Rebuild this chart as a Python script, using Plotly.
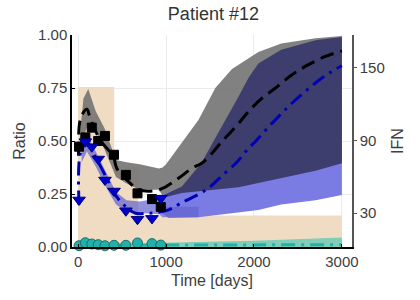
import plotly.graph_objects as go

# ---------------- data ----------------
# observation days and measured ratios
obs_days = [10, 82, 155, 228, 305, 408, 543, 675, 840, 940]
black_obs = [0.473, 0.517, 0.563, 0.500, 0.524, 0.435, 0.340, 0.253, 0.226, 0.189]
blue_obs = [0.222, 0.497, 0.473, 0.415, 0.316, 0.264, 0.171, 0.131, 0.135, 0.230]
teal_obs = [0.006, 0.020, 0.014, 0.011, 0.006, 0.008, 0.008, 0.019, 0.016, 0.009]

# model curves
black_model_days = [5, 30, 100, 135, 250, 345, 400, 440, 570, 690, 920, 1145, 1290, 1405,
                    1485, 1620, 1790, 1940, 2085, 2245, 2425, 2620, 2820, 3000]
black_model = [0.43, 0.61, 0.65, 0.61, 0.505, 0.457, 0.43, 0.37, 0.31, 0.27, 0.27, 0.325, 0.37,
               0.395, 0.425, 0.49, 0.566, 0.64, 0.70, 0.75, 0.81, 0.86, 0.90, 0.925]
blue_model_days = [10, 30, 100, 195, 330, 400, 520, 655, 785, 880, 1030, 1165, 1390, 1505,
                   1620, 1805, 1920, 2033, 2185, 2315, 2430, 2600, 2750, 2880, 3000]
blue_model = [0.20, 0.45, 0.49, 0.426, 0.32, 0.26, 0.198, 0.159, 0.159, 0.162, 0.175, 0.206,
              0.253, 0.285, 0.33, 0.40, 0.457, 0.505, 0.575, 0.63, 0.678, 0.74, 0.79, 0.827, 0.855]
teal_model_days = [0, 1000, 2000, 3000]
teal_model = [0.008, 0.009, 0.010, 0.011]

# confidence bands
gray_days = [25, 60, 115, 200, 300, 430, 550, 700, 920, 960, 1000, 1180, 1370, 1560, 1750,
             1940, 2050, 2310, 2700, 3000]
gray_upper = [0.55, 0.70, 0.745, 0.64, 0.56, 0.41, 0.40, 0.39, 0.37, 0.375, 0.39, 0.49, 0.60,
              0.75, 0.84, 0.89, 0.92, 0.96, 0.985, 0.995]
gray_lower = [0.45, 0.52, 0.58, 0.55, 0.46, 0.33, 0.30, 0.27, 0.27, 0.24, 0.235, 0.25, 0.26,
              0.27, 0.28, 0.295, 0.30, 0.32, 0.36, 0.40]

blue_fit_days = [40, 100, 200, 320, 430, 550, 700, 920, 960, 1370]
blue_fit_upper = [0.47, 0.53, 0.45, 0.35, 0.26, 0.22, 0.215, 0.23, 0.19, 0.19]
blue_fit_lower = [0.40, 0.45, 0.38, 0.28, 0.20, 0.165, 0.16, 0.155, 0.14, 0.14]

blue_pred_days = [950, 1030, 1370, 1750, 2050, 2310, 2700, 3000]
blue_pred_upper = [0.245, 0.26, 0.30, 0.33, 0.35, 0.37, 0.40, 0.43]
blue_pred_lower = [0.16, 0.137, 0.14, 0.16, 0.175, 0.20, 0.22, 0.245]

navy_days = [950, 1000, 1180, 1400, 1600, 1825, 1940, 2050, 2310, 2700, 3000]
navy_upper = [0.24, 0.25, 0.285, 0.395, 0.54, 0.71, 0.80, 0.865, 0.93, 0.975, 0.99]
navy_lower = [0.235, 0.236, 0.255, 0.265, 0.272, 0.282, 0.295, 0.305, 0.325, 0.36, 0.395]

teal_band_days = [0, 1000, 2000, 3000]
teal_band_upper = [0.012, 0.02, 0.03, 0.045]
teal_band_lower = [0.0, 0.0, 0.0, 0.0]

# IFN dosing (right axis)
dose_days = [0, 410, 680, 3000]
ifn_dose = [134, 68, 28, 28]

# ---------------- figure ----------------
fig = go.Figure()


def band(days, upper, lower, color):
    fig.add_trace(go.Scatter(
        x=list(days) + list(days)[::-1],
        y=list(upper) + list(lower)[::-1],
        fill="toself", fillcolor=color, mode="lines",
        line=dict(width=0, color=color), hoverinfo="skip",
        showlegend=False, yaxis="y2"))


# IFN dose steps (main y axis, drawn underneath)
fig.add_trace(go.Scatter(
    x=dose_days, y=ifn_dose, mode="lines", line=dict(shape="hv", width=0, color="#F0DCC3"),
    fill="tozeroy", fillcolor="#F0DCC3", showlegend=False, yaxis="y"))

band(teal_band_days, teal_band_upper, teal_band_lower, "#80CDBA")
band(gray_days, gray_upper, gray_lower, "rgba(112,112,112,0.88)")
band(blue_pred_days, blue_pred_upper, blue_pred_lower, "#7B7BE4")
band(blue_fit_days, blue_fit_upper, blue_fit_lower, "rgba(100,100,205,0.72)")
band(navy_days, navy_upper, navy_lower, "#3D3D6E")

# model lines
fig.add_trace(go.Scatter(x=teal_model_days, y=teal_model, mode="lines",
                         line=dict(color="#20B2AA", width=3, dash="14px,6px,3px,6px"),
                         showlegend=False, yaxis="y2"))
fig.add_trace(go.Scatter(x=black_model_days, y=black_model, mode="lines",
                         line=dict(color="black", width=3, dash="14px,7px", shape="spline"),
                         showlegend=False, yaxis="y2"))
fig.add_trace(go.Scatter(x=blue_model_days, y=blue_model, mode="lines",
                         line=dict(color="#0000B4", width=3, dash="14px,6px,3px,6px", shape="spline"),
                         showlegend=False, yaxis="y2"))

# observations
fig.add_trace(go.Scatter(x=obs_days, y=teal_obs, mode="markers", cliponaxis=False,
                         marker=dict(symbol="circle", size=10, color="#20B2AA",
                                     line=dict(color="#1B6E69", width=1)),
                         showlegend=False, yaxis="y2"))
fig.add_trace(go.Scatter(x=obs_days, y=black_obs, mode="markers", cliponaxis=False,
                         marker=dict(symbol="square", size=9, color="black",
                                     line=dict(color="black", width=1)),
                         showlegend=False, yaxis="y2"))
fig.add_trace(go.Scatter(x=obs_days, y=blue_obs, mode="markers", cliponaxis=False,
                         marker=dict(symbol="triangle-down", size=11, color="#0000CD",
                                     line=dict(color="#00007A", width=1)),
                         showlegend=False, yaxis="y2"))

font_family = "Liberation Sans, Arial, sans-serif"
fig.update_layout(
    width=420, height=300,
    margin=dict(l=72, r=68, t=35, b=53),
    paper_bgcolor="white", plot_bgcolor="white",
    font=dict(family=font_family, size=15, color="#404040"),
    title=dict(text="Patient #12", x=0.505, xref="paper", y=0.953, yanchor="middle",
               font=dict(size=18, color="#333333")),
    xaxis=dict(range=[-70, 3115], tickvals=[0, 1000, 2000, 3000], showgrid=True,
               gridcolor="#EBEBEB", gridwidth=1, zeroline=False, showline=True,
               linecolor="black", linewidth=1.5, ticks="inside", ticklen=3,
               tickcolor="black", tickfont=dict(size=15, color="#404040"),
               title=dict(text="Time [days]", font=dict(size=16, color="#404040"), standoff=6)),
    yaxis=dict(side="right", range=[2, 177], tickvals=[30, 90, 150], showgrid=False,
               zeroline=False, showline=True, linecolor="#555555", linewidth=1.5,
               ticks="outside", ticklen=3, tickcolor="#555555",
               tickfont=dict(size=15, color="#404040"),
               title=dict(text="IFN", font=dict(size=16, color="#404040"), standoff=8)),
    yaxis2=dict(overlaying="y", side="left", anchor="x", range=[0, 1],
                tickvals=[0, 0.25, 0.5, 0.75, 1.0], tickformat=".2f",
                showgrid=True, gridcolor="#EBEBEB", gridwidth=1, zeroline=False,
                showline=True, linecolor="black", linewidth=1.5, ticks="inside",
                ticklen=3, tickcolor="black", tickfont=dict(size=15, color="#404040"),
                title=dict(text="Ratio", font=dict(size=16, color="#404040"), standoff=8)),
)

fig.write_html("out.html", include_plotlyjs=True, full_html=True,
               config={"displayModeBar": False},
               post_script="document.body.style.margin='0';")
